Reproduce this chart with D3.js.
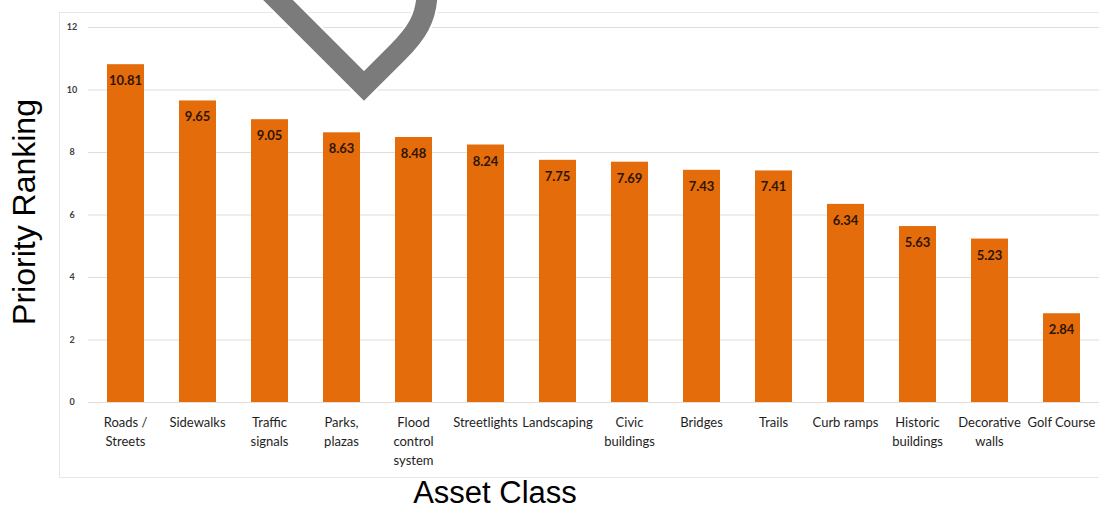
<!DOCTYPE html>
<html>
<head>
<meta charset="utf-8">
<script src="https://cdn.jsdelivr.net/npm/d3@7"></script>
<style>
  body { margin: 0; background: #fff; }
</style>
</head>
<body>
<div id="priority-chart"></div>
<script>
// asset classes (line breaks as in the original axis)
const assetClasses = [
  'Roads /\nStreets', 'Sidewalks', 'Traffic\nsignals', 'Parks,\nplazas',
  'Flood\ncontrol\nsystem', 'Streetlights', 'Landscaping', 'Civic\nbuildings',
  'Bridges', 'Trails', 'Curb ramps', 'Historic\nbuildings', 'Decorative\nwalls', 'Golf Course'
]
const priorityValues = [10.81, 9.65, 9.05, 8.63, 8.48, 8.24, 7.75, 7.69, 7.43, 7.41, 6.34, 5.63, 5.23, 2.84]
const yTickValues = [0, 2, 4, 6, 8, 10, 12]

const graphConstants = {
  width: 1099,
  height: 510,
  plot: { left: 89.5, right: 1097.5, top: 27, bottom: 402 },
  barColor: '#e46c0a',
  gridColor: '#dedede',
  labelFont: 'Lato, "Open Sans", sans-serif'
}

const data = assetClasses.map((name, i) => ({ name: name, value: priorityValues[i] }))

const svg = d3.select('#priority-chart')
  .append('svg')
  .attr('width', graphConstants.width)
  .attr('height', graphConstants.height)

// light frame around the chart area
svg.append('rect')
  .attr('x', 59.5)
  .attr('y', 12.5)
  .attr('width', 1060)
  .attr('height', 465)
  .attr('fill', 'none')
  .attr('stroke', '#e6e6e6')

const xScale = d3.scaleBand()
  .domain(assetClasses)
  .range([graphConstants.plot.left, graphConstants.plot.right])
  .paddingInner(0.486)
  .paddingOuter(0.243)

const yScale = d3.scaleLinear()
  .domain([0, 12])
  .range([graphConstants.plot.bottom, graphConstants.plot.top])

// y axis with gridlines
const yAxis = svg.append('g')
  .attr('transform', 'translate(88,0)')
  .call(d3.axisLeft(yScale).tickValues(yTickValues).tickSize(-(1099 - 88)).tickPadding(10))
yAxis.select('.domain').remove()
yAxis.selectAll('line')
  .attr('stroke', graphConstants.gridColor)
yAxis.selectAll('text')
  .attr('font-family', graphConstants.labelFont)
  .attr('font-size', '9px')
  .attr('font-weight', 700)
  .attr('fill', '#404040')
  .attr('text-anchor', 'middle')
  .attr('x', -16)

// bars
svg.selectAll('.bar')
  .data(data)
  .enter()
  .append('rect')
  .attr('class', 'bar')
  .attr('x', d => xScale(d.name))
  .attr('y', d => yScale(d.value))
  .attr('width', xScale.bandwidth())
  .attr('height', d => yScale(0) - yScale(d.value))
  .attr('fill', graphConstants.barColor)

// value labels inside the top of each bar
svg.selectAll('.value-label')
  .data(data)
  .enter()
  .append('text')
  .attr('class', 'value-label')
  .attr('x', d => xScale(d.name) + xScale.bandwidth() / 2)
  .attr('y', d => yScale(d.value) + 21)
  .attr('text-anchor', 'middle')
  .attr('font-family', graphConstants.labelFont)
  .attr('font-weight', 700)
  .attr('font-size', '13px')
  .attr('fill', '#2e1503')
  .text(d => d.value.toFixed(2))

// category labels, one tspan per line
const catLabels = svg.selectAll('.cat-label')
  .data(data)
  .enter()
  .append('text')
  .attr('class', 'cat-label')
  .attr('text-anchor', 'middle')
  .attr('font-family', graphConstants.labelFont)
  .attr('font-size', '13px')
  .attr('fill', '#1e1e1e')
  .attr('transform', d => 'translate(' + (xScale(d.name) + xScale.bandwidth() / 2) + ',427)')

catLabels.selectAll('tspan')
  .data(d => d.name.split('\n'))
  .enter()
  .append('tspan')
  .attr('x', 0)
  .attr('y', (line, i) => i * 19)
  .text(line => line)

// axis titles
svg.append('text')
  .attr('font-family', 'Arial, "Liberation Sans", sans-serif')
  .attr('font-size', '32px')
  .attr('fill', '#000')
  .attr('text-anchor', 'middle')
  .attr('transform', 'translate(35,212) rotate(-90)')
  .text('Priority Ranking')

svg.append('text')
  .attr('font-family', 'Arial, "Liberation Sans", sans-serif')
  .attr('font-size', '31px')
  .attr('fill', '#000')
  .attr('text-anchor', 'middle')
  .attr('x', 495)
  .attr('y', 503)
  .text('Asset Class')

// grey heart-shaped stroke drawn over the top of the picture
const heartPath = 'M270,-8 L364,86 L398,52 C416,34 427,18 427,-8'
svg.append('path')
  .attr('d', heartPath)
  .attr('fill', 'none')
  .attr('stroke', '#fff')
  .attr('stroke-width', 25)
svg.append('path')
  .attr('d', heartPath)
  .attr('fill', 'none')
  .attr('stroke', '#7b7b7b')
  .attr('stroke-width', 21)
</script>
</body>
</html>
